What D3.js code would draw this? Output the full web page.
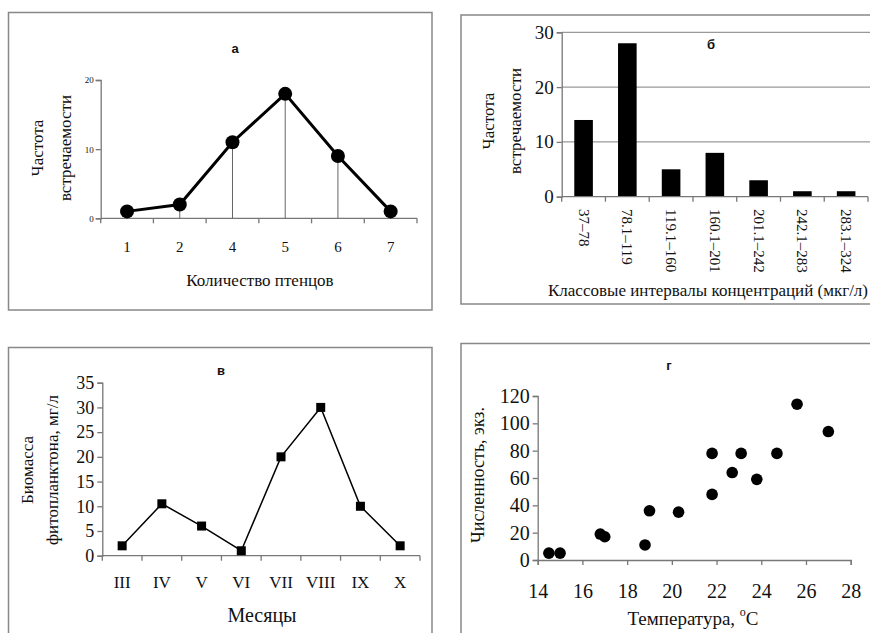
<!DOCTYPE html>
<html>
<head>
<meta charset="utf-8">
<script src="https://cdn.jsdelivr.net/npm/d3@7"></script>
<style>
  body { margin: 0; background: #fff; }
  svg { display: block; }
</style>
</head>
<body>
<svg id="chart" width="870" height="633"></svg>
<script>
// panel а
var chicks      = ["1", "2", "4", "5", "6", "7"];
var chickFreq   = [1, 2, 11, 18, 9, 1];
var chickTicks  = [0, 10, 20];

// panel б
var intervals   = ["37–78", "78.1–119", "119.1–160", "160.1–201", "201.1–242", "242.1–283", "283.1–324"];
var intervalFreq = [14, 28, 5, 8, 3, 1, 1];
var intervalTicks = [0, 10, 20, 30];

// panel в
var months      = ["III", "IV", "V", "VI", "VII", "VIII", "IX", "X"];
var biomass     = [2, 10.5, 6, 1, 20, 30, 10, 2];
var biomassTicks = [0, 5, 10, 15, 20, 25, 30, 35];

// panel г
var temps       = [14.5, 15, 16.8, 17, 18.8, 19, 20.3, 21.8, 21.8, 22.7, 23.1, 23.8, 24.7, 25.6, 27];
var counts      = [5, 5, 19, 17, 11, 36, 35, 78, 48, 64, 78, 59, 78, 114, 94];
var tempTicks   = [14, 16, 18, 20, 22, 24, 26, 28];
var countTicks  = [0, 20, 40, 60, 80, 100, 120];

var AXIS  = "#777";
var SERIF = "'Liberation Serif', 'Times New Roman', 'DejaVu Serif', serif";
var SANS  = "'Liberation Sans', Arial, sans-serif";
var svg = d3.select("#chart");

function frame(x0, y0, x1, y1) {
	svg.append("rect")
		.attr("x", x0).attr("y", y0)
		.attr("width", x1 - x0).attr("height", y1 - y0)
		.attr("fill", "none")
		.attr("stroke", "#888")
		.attr("stroke-width", 1.5);
}

function title(txt, x, y) {
	svg.append("text").attr("class", "ttl")
		.attr("x", x).attr("y", y)
		.attr("text-anchor", "middle")
		.attr("dominant-baseline", "central")
		.text(txt);
}

function yTitle(lines, xs, cy, size) {
	lines.forEach(function(l, i) {
		svg.append("text")
			.attr("transform", "translate(" + xs[i] + "," + cy + ") rotate(-90)")
			.attr("text-anchor", "middle")
			.attr("dominant-baseline", "central")
			.style("font-size", size + "px")
			.text(l);
	});
}

function yAxis(g, y, ticks, size, pad) {
	var ax = d3.axisLeft(y).tickValues(ticks).tickSize(5).tickPadding(pad);
	g.call(ax);
	g.selectAll("path, line").attr("stroke", AXIS).attr("stroke-width", 1.3);
	g.selectAll("text").style("font-size", size + "px").attr("fill", "#111");
}

function bandXAxis(g, x, y0, size, pad) {
	var r = x.range();
	g.append("line")
		.attr("x1", r[0]).attr("x2", r[1])
		.attr("y1", y0).attr("y2", y0)
		.attr("stroke", AXIS).attr("stroke-width", 1.3);
	var bounds = x.domain().map(function(d) { return x(d); }).concat([r[1]]);
	g.selectAll("line.tk").data(bounds).enter().append("line")
		.attr("class", "tk")
		.attr("x1", function(d) { return d; }).attr("x2", function(d) { return d; })
		.attr("y1", y0).attr("y2", y0 + 5)
		.attr("stroke", AXIS).attr("stroke-width", 1.3);
	if ( size ) {
		g.selectAll("text.lb").data(x.domain()).enter().append("text")
			.attr("class", "lb")
			.attr("x", function(d) { return x(d) + x.bandwidth() / 2; })
			.attr("y", y0 + pad)
			.attr("text-anchor", "middle")
			.attr("dominant-baseline", "central")
			.style("font-size", size + "px")
			.text(function(d) { return d; });
	}
}

// ---------- а ----------
(function() {
	frame(8.5, 12.5, 432, 310);
	title("а", 235, 48);

	var x = d3.scaleBand().domain(chicks).range([100.7, 417]);
	var y = d3.scaleLinear().domain([0, 20]).range([218.3, 80]);
	var g = svg.append("g");

	yAxis(g.append("g").attr("transform", "translate(100.7,0)"), y, chickTicks, 9, 2);
	bandXAxis(g, x, 218.3, 15, 29);

	var cx = function(d, i) { return x(chicks[i]) + x.bandwidth() / 2; };

	g.selectAll("line.drop").data(chickFreq).enter().append("line")
		.attr("x1", cx).attr("x2", cx)
		.attr("y1", function(d) { return y(d); }).attr("y2", y(0))
		.attr("stroke", "#666").attr("stroke-width", 1);

	var line = d3.line().x(cx).y(function(d) { return y(d); });
	g.append("path").datum(chickFreq)
		.attr("d", line).attr("fill", "none")
		.attr("stroke", "#000").attr("stroke-width", 3);

	g.selectAll("circle").data(chickFreq).enter().append("circle")
		.attr("cx", cx).attr("cy", function(d) { return y(d); })
		.attr("r", 7).attr("fill", "#000");

	svg.append("text").attr("x", 260).attr("y", 280)
		.attr("text-anchor", "middle").attr("dominant-baseline", "central")
		.style("font-size", "17px").text("Количество птенцов");

	yTitle(["Частота", "встречаемости"], [37, 65], 148, 17);
})();

// ---------- б ----------
(function() {
	frame(461, 15, 900, 304);
	title("б", 711, 44);

	var x = d3.scaleBand().domain(intervals).range([561.7, 868]);
	var y = d3.scaleLinear().domain([0, 30]).range([196.7, 32.3]);
	var g = svg.append("g");

	g.selectAll("line.grid").data(intervalTicks.filter(function(d) { return d > 0; })).enter().append("line")
		.attr("x1", 561.7).attr("x2", 870)
		.attr("y1", function(d) { return y(d); }).attr("y2", function(d) { return y(d); })
		.attr("stroke", "#999").attr("stroke-width", 1.2);

	g.selectAll("rect.bar").data(intervalFreq).enter().append("rect")
		.attr("class", "bar")
		.attr("x", function(d, i) { return x(intervals[i]) + x.bandwidth() / 2 - 9.3; })
		.attr("width", 18.6)
		.attr("y", function(d) { return y(d); })
		.attr("height", function(d) { return y(0) - y(d); })
		.attr("fill", "#000");

	yAxis(g.append("g").attr("transform", "translate(561.7,0)"), y, intervalTicks, 19, 3);
	bandXAxis(g, x, 196.7, 0, 0);

	g.selectAll("text.rl").data(intervals).enter().append("text")
		.attr("transform", function(d) {
			return "translate(" + (x(d) + x.bandwidth() / 2) + ",209) rotate(90)";
		})
		.attr("text-anchor", "start")
		.attr("dominant-baseline", "central")
		.style("font-size", "15px")
		.text(function(d) { return d; });

	svg.append("text").attr("x", 548).attr("y", 290)
		.attr("text-anchor", "start").attr("dominant-baseline", "central")
		.style("font-size", "17px").text("Классовые интервалы концентраций (мкг/л)");

	yTitle(["Частота", "встречаемости"], [488, 515], 121, 17);
})();

// ---------- в ----------
(function() {
	frame(8.5, 347.5, 432, 660);
	title("в", 221, 370);

	var x = d3.scaleBand().domain(months).range([102.3, 420]);
	var y = d3.scaleLinear().domain([0, 35]).range([555.7, 382.7]);
	var g = svg.append("g");

	yAxis(g.append("g").attr("transform", "translate(102.3,0)"), y, biomassTicks, 18, 3);
	bandXAxis(g, x, 555.7, 17, 27);

	var cx = function(d, i) { return x(months[i]) + x.bandwidth() / 2; };
	var line = d3.line().x(cx).y(function(d) { return y(d); });
	g.append("path").datum(biomass)
		.attr("d", line).attr("fill", "none")
		.attr("stroke", "#000").attr("stroke-width", 1.5);

	g.selectAll("rect.mk").data(biomass).enter().append("rect")
		.attr("x", function(d, i) { return cx(d, i) - 4.5; })
		.attr("y", function(d) { return y(d) - 4.5; })
		.attr("width", 9).attr("height", 9)
		.attr("fill", "#000");

	svg.append("text").attr("x", 262).attr("y", 615)
		.attr("text-anchor", "middle").attr("dominant-baseline", "central")
		.style("font-size", "20px").text("Месяцы");

	yTitle(["Биомасса", "фитопланктона, мг/л"], [27, 52], 470, 17);
})();

// ---------- г ----------
(function() {
	frame(461, 343.5, 900, 660);
	title("г", 669, 365);

	var x = d3.scaleLinear().domain([14, 28]).range([537.7, 850.7]);
	var y = d3.scaleLinear().domain([0, 120]).range([560, 396]);
	var g = svg.append("g");

	yAxis(g.append("g").attr("transform", "translate(537.7,0)"), y, countTicks, 20, 3);

	var xa = g.append("g").attr("transform", "translate(0,560)")
		.call(d3.axisBottom(x).tickValues(tempTicks).tickSize(5).tickPadding(19));
	xa.selectAll("path, line").attr("stroke", AXIS).attr("stroke-width", 1.3);
	xa.selectAll("text").style("font-size", "20px").attr("fill", "#111");

	g.selectAll("circle").data(temps).enter().append("circle")
		.attr("cx", function(d) { return x(d); })
		.attr("cy", function(d, i) { return y(counts[i]); })
		.attr("r", 5.8).attr("fill", "#000");

	var t = svg.append("text").attr("x", 693).attr("y", 618)
		.attr("text-anchor", "middle").attr("dominant-baseline", "central")
		.style("font-size", "19px");
	t.append("tspan").text("Температура, ");
	t.append("tspan").attr("dy", -6).style("font-size", "12px").text("o");
	t.append("tspan").attr("dy", 6).text("C");

	yTitle(["Численность, экз."], [478], 475, 18);
})();

// fonts: serif everywhere except the panel letters
svg.selectAll("g").attr("font-family", null);
svg.selectAll("text").style("font-family", SERIF).style("fill", "#111");
svg.selectAll("text.ttl").style("font-family", SANS)
	.style("font-weight", "bold").style("font-size", "13px");
</script>
</body>
</html>
